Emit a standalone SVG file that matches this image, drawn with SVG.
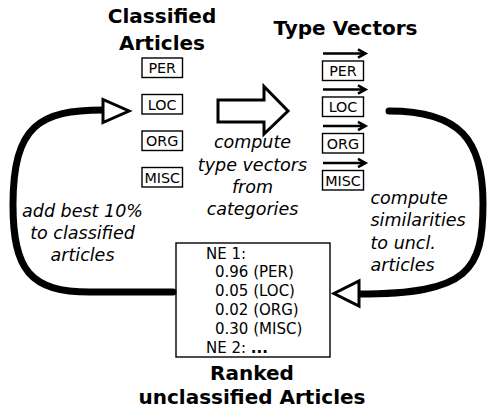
<svg xmlns="http://www.w3.org/2000/svg" width="489" height="414" viewBox="0 0 489 414">
<style>
.t{font-family:"DejaVu Sans",sans-serif;fill:#000}
.h{font-size:20px;font-weight:bold;text-anchor:middle}
.lbl{font-size:14.3px;text-anchor:middle}
.it{font-size:17.5px;font-style:italic}
.box{fill:#fff;stroke:#000;stroke-width:1.4}
.vec{fill:none;stroke:#000;stroke-width:2.6}
.flow{fill:none;stroke:#000;stroke-width:7;stroke-linecap:round;stroke-linejoin:round}
.tri{fill:#fff;stroke:#000;stroke-width:3;stroke-linejoin:miter}
.rk{font-size:15px}
</style>
<rect width="489" height="414" fill="#fff"/>

<g id="classified-articles">
<text class="t h" x="162" y="23">Classified</text>
<text class="t h" x="162" y="50">Articles</text>
<rect class="box" x="142" y="58" width="40.5" height="19.5"/>
<text class="t lbl" x="162.2" y="73">PER</text>
<rect class="box" x="142" y="94.5" width="40.5" height="19.5"/>
<text class="t lbl" x="162.2" y="109.5">LOC</text>
<rect class="box" x="142" y="131" width="40.5" height="19.5"/>
<text class="t lbl" x="162.2" y="146">ORG</text>
<rect class="box" x="142" y="167.5" width="40.5" height="19.5"/>
<text class="t lbl" x="162.2" y="182.5">MISC</text>
</g>

<g id="type-vectors">
<text class="t h" x="345.5" y="35">Type Vectors</text>
<rect class="box" x="322.5" y="61" width="41" height="19.5"/>
<text class="t lbl" x="343" y="76">PER</text>
<rect class="box" x="322.5" y="97" width="41" height="19.5"/>
<text class="t lbl" x="343" y="112">LOC</text>
<rect class="box" x="322.5" y="133.5" width="41" height="19.5"/>
<text class="t lbl" x="343" y="148.5">ORG</text>
<rect class="box" x="322.5" y="170.5" width="41" height="19.5"/>
<text class="t lbl" x="343" y="185.5">MISC</text>
<path class="vec" d="M323,53.5H365M358,49.3L365.5,53.5L358,57.7"/>
<path class="vec" d="M323,89.5H365M358,85.3L365.5,89.5L358,93.7"/>
<path class="vec" d="M323,126H365M358,121.8L365.5,126L358,130.2"/>
<path class="vec" d="M323,163H365M358,158.8L365.5,163L358,167.2"/>
</g>

<g id="ranked-unclassified">
<rect class="box" x="176" y="243" width="154" height="114"/>
<text class="t rk" x="206" y="258.5">NE 1:</text>
<text class="t rk" x="215" y="277">0.96 (PER)</text>
<text class="t rk" x="215" y="296">0.05 (LOC)</text>
<text class="t rk" x="215" y="315">0.02 (ORG)</text>
<text class="t rk" x="215" y="334">0.30 (MISC)</text>
<text class="t rk" x="206" y="353">NE 2: <tspan font-weight="bold">...</tspan></text>
<text class="t h" x="252" y="380">Ranked</text>
<text class="t h" x="252" y="404">unclassified Articles</text>
</g>

<g id="connectors">
<polygon class="tri" points="218,100 264,100 264,86.5 288,111 264,134 264,122 218,122"/>
<path class="flow" d="M173,292 L90,292 C30,292 13,270 13,205 C13,125 40,110 103,110"/>
<polygon class="tri" points="103,99.5 103,122.5 129,111"/>
<path class="flow" d="M389,111 C460,111 483,140 483,203 C483,270 470,294 358,294"/>
<polygon class="tri" points="359,281 359,306 334,293.5"/>
</g>

<g id="labels">
<text class="t it" text-anchor="middle" x="252.5" y="148">compute</text>
<text class="t it" text-anchor="middle" x="252.5" y="170.5">type vectors</text>
<text class="t it" text-anchor="middle" x="252.5" y="193">from</text>
<text class="t it" text-anchor="middle" x="252.5" y="215">categories</text>
<text class="t it" text-anchor="middle" x="82.5" y="216.5">add best 10%</text>
<text class="t it" text-anchor="middle" x="82.5" y="238.5">to classified</text>
<text class="t it" text-anchor="middle" x="82.5" y="260.5">articles</text>
<text class="t it" x="370.5" y="203.5">compute</text>
<text class="t it" x="370.5" y="226">similarities</text>
<text class="t it" x="370.5" y="248.5">to uncl.</text>
<text class="t it" x="370.5" y="271">articles</text>
</g>
</svg>
